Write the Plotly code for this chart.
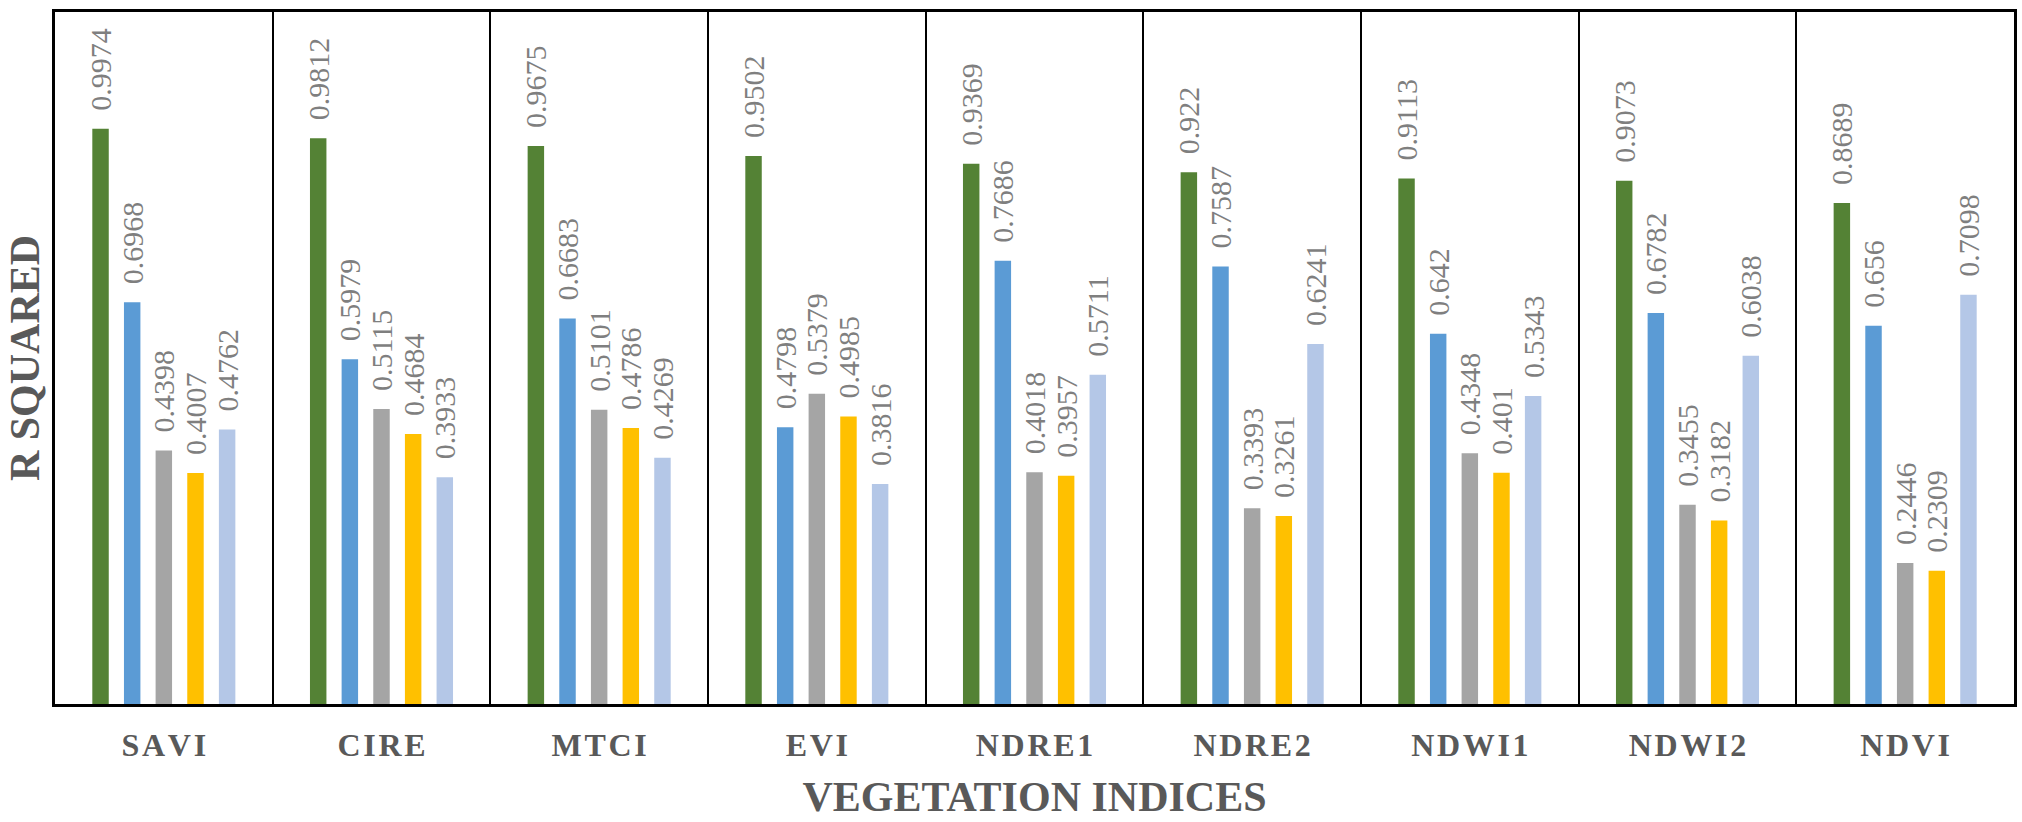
import plotly.graph_objects as go

categories = ["SAVI", "CIRE", "MTCI", "EVI", "NDRE1", "NDRE2", "NDWI1", "NDWI2", "NDVI"]
series_names = ["Series 1", "Series 2", "Series 3", "Series 4", "Series 5"]
series_1 = [0.9974, 0.9812, 0.9675, 0.9502, 0.9369, 0.922, 0.9113, 0.9073, 0.8689]
series_2 = [0.6968, 0.5979, 0.6683, 0.4798, 0.7686, 0.7587, 0.642, 0.6782, 0.656]
series_3 = [0.4398, 0.5115, 0.5101, 0.5379, 0.4018, 0.3393, 0.4348, 0.3455, 0.2446]
series_4 = [0.4007, 0.4684, 0.4786, 0.4985, 0.3957, 0.3261, 0.401, 0.3182, 0.2309]
series_5 = [0.4762, 0.3933, 0.4269, 0.3816, 0.5711, 0.6241, 0.5343, 0.6038, 0.7098]
all_series = [series_1, series_2, series_3, series_4, series_5]
colors = ["#548235", "#5B9BD5", "#A5A5A5", "#FFC000", "#B4C7E7"]

SERIF = "Liberation Serif, serif"

# letter-spaced tick labels (hair spaces between letters)
tick_text = ["\u200a".join(list(c)) for c in categories]

fig = go.Figure()
for name, vals, col in zip(series_names, all_series, colors):
    lbl_font = dict(family=SERIF, size=30, color="#7F7F7F", weight="normal")
    fig.add_trace(go.Bar(
        x=categories, y=vals, name=name,
        marker=dict(color=col, line=dict(width=0)),
        text=["\u00a0\u00a0" + str(v) for v in vals],
        textposition="outside", textangle=-90,
        constraintext="none", cliponaxis=False,
        textfont=lbl_font, outsidetextfont=lbl_font,
        showlegend=False,
    ))

fig.update_layout(
    width=2022, height=822,
    font=dict(family=SERIF),
    margin=dict(l=55, r=5, t=12, b=118),
    paper_bgcolor="white", plot_bgcolor="white",
    barmode="group", bargap=0.273, bargroupgap=0.48,
    xaxis=dict(
        type="category", tickson="boundaries",
        tickmode="array", tickvals=categories, ticktext=tick_text,
        showgrid=True, gridcolor="black", gridwidth=2,
        showline=True, linecolor="black", linewidth=3, mirror=True,
        ticks="", ticklabelstandoff=11,
        tickfont=dict(family=SERIF, size=32, color="#595959", weight="bold"),
        title=dict(text="VEGETATION INDICES", standoff=20,
                   font=dict(family=SERIF, size=42, color="#595959", weight="bold")),
    ),
    yaxis=dict(
        range=[0, 1.2], showticklabels=False, showgrid=False, zeroline=False,
        showline=True, linecolor="black", linewidth=3, mirror=True, ticks="",
        title=dict(text="R SQUARED", standoff=0,
                   font=dict(family=SERIF, size=42, color="#595959", weight="bold")),
    ),
)

fig.write_html("out.html")
